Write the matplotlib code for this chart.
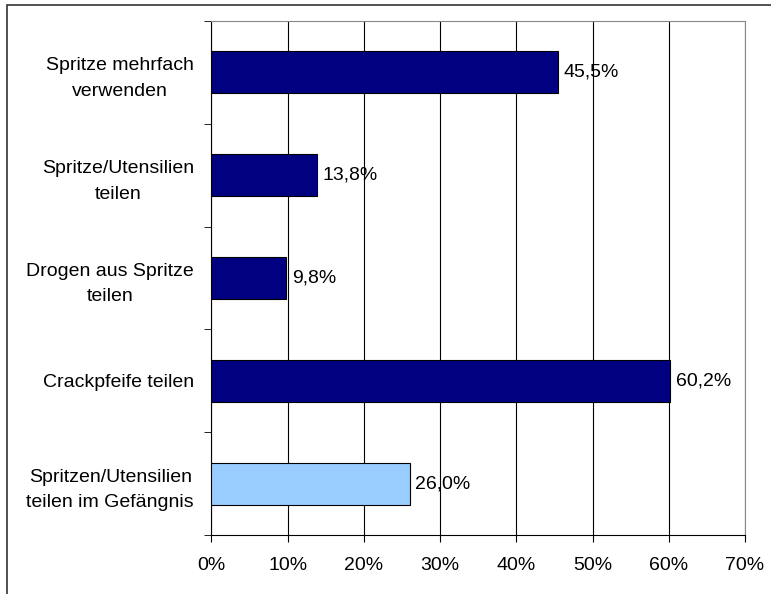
import matplotlib.pyplot as plt
from matplotlib.patches import Rectangle
from matplotlib.ticker import FixedLocator
import numpy as np

plt.rcParams['font.family'] = ['Liberation Sans', 'DejaVu Sans']

categories = ["Spritze mehrfach\nverwenden",
              "Spritze/Utensilien\nteilen",
              "Drogen aus Spritze\nteilen",
              "Crackpfeife teilen",
              "Spritzen/Utensilien\nteilen im Gefängnis"]
values = [45.5, 13.8, 9.8, 60.2, 26.0]
colors = ["#000080", "#000080", "#000080", "#000080", "#99CCFF"]
xticks = [0, 10, 20, 30, 40, 50, 60, 70]

fs = 14

fig = plt.figure(figsize=(7.71, 5.94), dpi=100)
ax = fig.add_axes([0.2743, 0.0993, 0.9663 - 0.2743, 0.9646 - 0.0993])

# outer frame (only top and left visible in the reference)
fig.patches.append(Rectangle((0.009, -0.05), 1.1, 1.042, transform=fig.transFigure,
                             fill=False, edgecolor="#333333", linewidth=1.2))

y = np.arange(len(categories))
ax.barh(y, values, height=0.41, color=colors, edgecolor="black", linewidth=0.8, zorder=3)

for yi, v in zip(y, values):
    ax.annotate(("%.1f%%" % v).replace(".", ","), xy=(v, yi), xytext=(4, 0),
                textcoords="offset points", va="center", ha="left", fontsize=fs)

ax.set_xlim(0, 70)
ax.set_ylim(len(categories) - 0.5, -0.5)
ax.set_xticks(xticks)
ax.set_xticklabels(["%d%%" % t for t in xticks], fontsize=fs)
ax.xaxis.grid(True, color="black", linewidth=0.8, zorder=0)

ax.set_yticks(y)
ax.set_yticklabels(categories, fontsize=fs, ha="right", multialignment="center",
                   linespacing=1.65)
ax.yaxis.set_minor_locator(FixedLocator(np.arange(len(categories) + 1) - 0.5))
ax.tick_params(axis="y", which="major", length=0, pad=12.5)
ax.tick_params(axis="y", which="minor", length=5, direction="out", color="black")
ax.tick_params(axis="x", length=5, direction="out", pad=10.5, color="black")

ax.spines["left"].set_color("black")
ax.spines["bottom"].set_color("black")
ax.spines["top"].set_color("#888888")
ax.spines["right"].set_color("#888888")

fig.savefig("out.png", dpi=100)
